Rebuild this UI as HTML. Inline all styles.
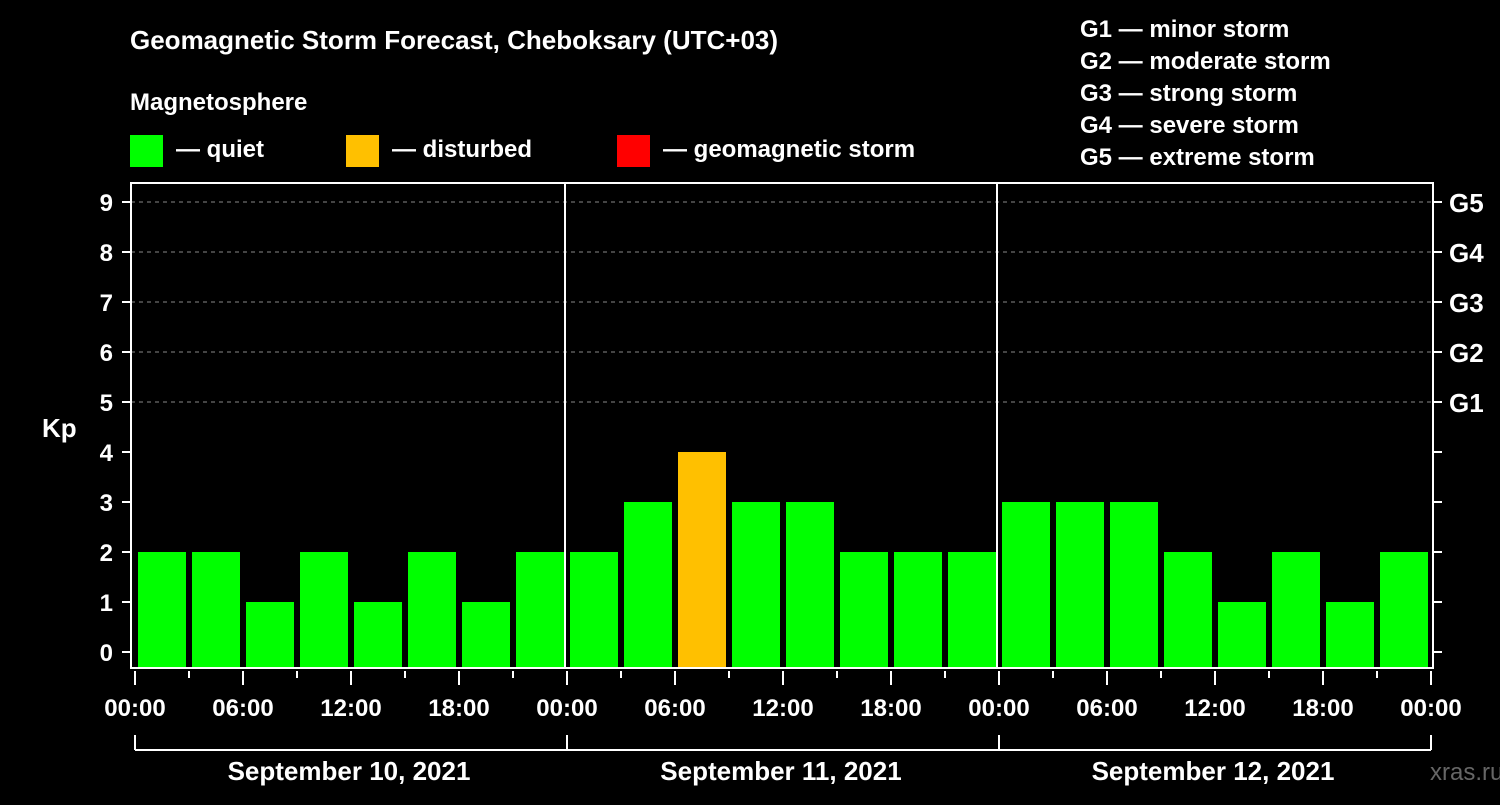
<!DOCTYPE html>
<html><head><meta charset="utf-8"><style>
body{margin:0;background:#000;width:1500px;height:800px;overflow:hidden}
svg text{font-family:"Liberation Sans",sans-serif;font-weight:bold;fill:#fff}
</style></head><body>
<svg id="c" width="1500" height="800">
<text x="130" y="49" font-size="26">Geomagnetic Storm Forecast, Cheboksary (UTC+03)</text>
<text x="130" y="110" font-size="24">Magnetosphere</text>
<rect x="130" y="135" width="33" height="32" fill="#00ff00"/>
<text x="176" y="157" font-size="24">— quiet</text>
<rect x="346" y="135" width="33" height="32" fill="#ffc000"/>
<text x="392" y="157" font-size="24">— disturbed</text>
<rect x="617" y="135" width="33" height="32" fill="#ff0000"/>
<text x="663" y="157" font-size="24">— geomagnetic storm</text>
<g font-size="24">
<text x="1080" y="37">G1 — minor storm</text>
<text x="1080" y="69">G2 — moderate storm</text>
<text x="1080" y="101">G3 — strong storm</text>
<text x="1080" y="133">G4 — severe storm</text>
<text x="1080" y="165">G5 — extreme storm</text>
</g>
<text x="42" y="437" font-size="26">Kp</text>
<text x="1430" y="780" font-size="24" fill="#555" style="fill:#666;font-weight:normal">xras.ru</text>
<g id="plot"></g>
</svg>
<script>
const kpValues=[2,2,1,2,1,2,1,2, 2,3,4,3,3,2,2,2, 3,3,3,2,1,2,1,2];
const dayLabels=["September 10, 2021","September 11, 2021","September 12, 2021"];
const hourLabels=["00:00","06:00","12:00","18:00"];
const gLabels=["G1","G2","G3","G4","G5"];
const NS="http://www.w3.org/2000/svg";
const g=document.getElementById('plot');
const X0=135,DAY=432,SLOT=54;
function xH(h){return X0+h*DAY/24;}
function yK(v){return 652-50*v;}
function mk(t,a,p){const e=document.createElementNS(NS,t);for(const k in a)e.setAttribute(k,a[k]);(p||g).appendChild(e);return e;}
for(let k=1;k<=9;k++){if(k>=5){const l=mk('line',{x1:131,x2:1433,y1:yK(k),y2:yK(k),stroke:'#888','stroke-dasharray':'4,4'});

}}
kpValues.forEach((v,i)=>{const c=v>=5?'#ff0000':(v>=4?'#ffc000':'#00ff00');
const r=mk('rect',{x:X0+i*SLOT+3,y:yK(v),width:SLOT-6,height:667-yK(v),fill:c});

});
for(let d=1;d<3;d++){mk('line',{x1:X0+d*DAY-2,x2:X0+d*DAY-2,y1:182,y2:668,stroke:'#fff','stroke-width':2});}
const fr=mk('rect',{x:131,y:183,width:1302,height:485,fill:'none',stroke:'#fff','stroke-width':2});


for(let k=0;k<=9;k++){mk('line',{x1:122,x2:131,y1:yK(k),y2:yK(k),stroke:'#fff','stroke-width':2});
mk('line',{x1:1433,x2:1442,y1:yK(k),y2:yK(k),stroke:'#fff','stroke-width':2});
const t=mk('text',{x:113,y:yK(k)+9,'font-size':24,'text-anchor':'end'});t.textContent=k;

}
gLabels.forEach((s,i)=>{const t=mk('text',{x:1449,y:yK(5+i)+10,'font-size':26});t.textContent=s;

});
for(let h=0;h<=72;h+=3){const major=h%6===0;mk('line',{x1:xH(h),x2:xH(h),y1:671,y2:major?685:678,stroke:'#fff','stroke-width':2});
if(major){const t=mk('text',{x:xH(h),y:716,'font-size':24,'text-anchor':'middle'});t.textContent=hourLabels[(h/6)%4];

}}
mk('line',{x1:135,x2:1431,y1:750,y2:750,stroke:'#fff','stroke-width':2});
for(let d=0;d<=3;d++)mk('line',{x1:X0+d*DAY,x2:X0+d*DAY,y1:735,y2:750,stroke:'#fff','stroke-width':2});
dayLabels.forEach((s,i)=>{const t=mk('text',{x:X0+i*DAY+DAY/2-2,y:780,'font-size':26,'text-anchor':'middle'});t.textContent=s;

});
</script>
</body></html>
